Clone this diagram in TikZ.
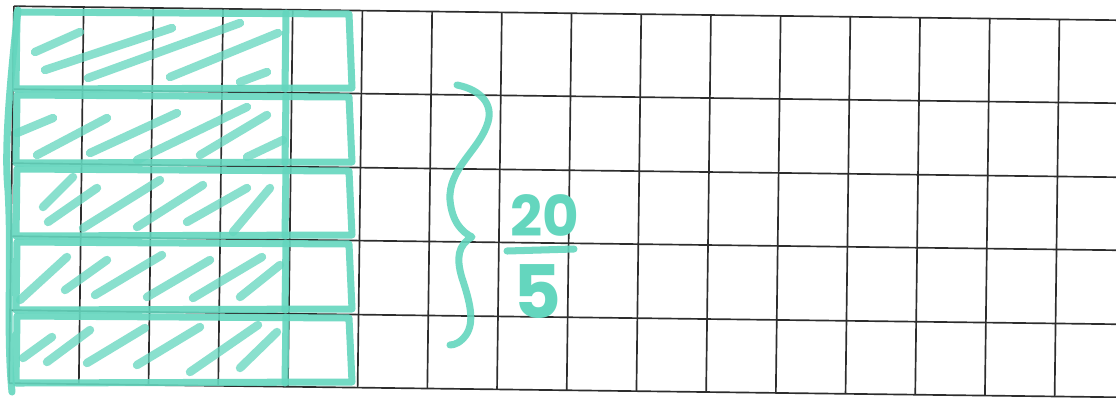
\documentclass[tikz,border=0pt]{standalone}
\usepackage{fontspec}
\newfontfamily\handfont{Poppins}
\definecolor{marker}{RGB}{100,214,190}
\definecolor{gridgray}{RGB}{45,45,45}
\tikzset{
  gridline/.style={draw=gridgray, line width=0.95pt},
  outline/.style={draw=marker, line width=4pt, line cap=round, line join=round, opacity=0.9},
  hatch/.style={draw=marker, line width=4.8pt, line cap=round, opacity=0.75},
  frac/.style={text=marker, inner sep=0pt, font=\handfont\bfseries\fontsize{32}{34}\selectfont},
}
\begin{document}
\begin{tikzpicture}[x=0.02cm, y=-0.02cm]
\useasboundingbox[fill=white] (0,0) rectangle (1116,397);
\clip (0,0) rectangle (1116,397);

% squared paper, slightly skewed
\foreach \r in {6,89,163,236,310,383}
  \draw[gridline] ({14-0.0127*\r},{\r+0.0127*14}) -- ({1140-0.0127*\r},{\r+0.0127*1140});
\foreach \c in {0,...,16}{
  \pgfmathsetmacro\u{14+69.7*\c}
  \draw[gridline] ({\u-0.0127*6},{6+0.0127*\u}) -- ({\u-0.0127*383},{383+0.0127*\u});
}

% five strips of five cells
\foreach \t/\b in {6/89,89/163,163/236,236/310,310/383}{
  \draw[outline] (17,\t+6) -- (349,\t+8) -- (352,\b-1) -- (16,\b) -- cycle;
  \draw[outline] (286,\t+7) -- (285,\b);
}
\draw[outline] (18,10) .. controls (10,80) and (4,150) .. (8,190) .. controls (12,260) and (6,330) .. (12,392);

% hatching of four cells in each strip
\foreach \xa/\ya/\xb/\yb in {
  35/52/80/32, 45/70/172/28, 88/78/240/23, 170/77/278/33, 240/82/267/72,
  17/133/53/118, 37/155/107/118, 90/153/177/113, 137/160/247/107, 200/155/267/115, 247/157/283/140,
  43/207/73/177, 48/222/97/188, 83/228/160/180, 137/227/203/185, 187/222/247/188, 233/232/270/188,
  20/300/67/257, 65/290/107/260, 95/295/162/255, 147/297/210/260, 193/298/262/257, 240/297/280/265,
  23/358/52/337, 47/362/90/330, 87/363/145/328, 137/365/200/327, 190/372/258/325, 240/368/277/332}
  \draw[hatch] (\xa,\ya) -- (\xb,\yb);

% brace and fraction
\draw[outline] (457,85) .. controls (482,90) and (493,105) .. (488,122)
  .. controls (480,150) and (448,168) .. (450,200)
  .. controls (452,222) and (462,232) .. (472,237)
  .. controls (458,245) and (456,258) .. (462,278)
  .. controls (470,302) and (475,322) .. (466,335)
  .. controls (461,342) and (455,345) .. (450,345);
\node[frac] (num) at (545,216) {20};
\node[frac, font=\handfont\bfseries\fontsize{42}{44}\selectfont] (den) at (537,292) {5};
\coordinate (barl) at (507,251);
\coordinate (barr) at (574,249);
\draw[outline] (barl) -- (barr);
\end{tikzpicture}
\end{document}
